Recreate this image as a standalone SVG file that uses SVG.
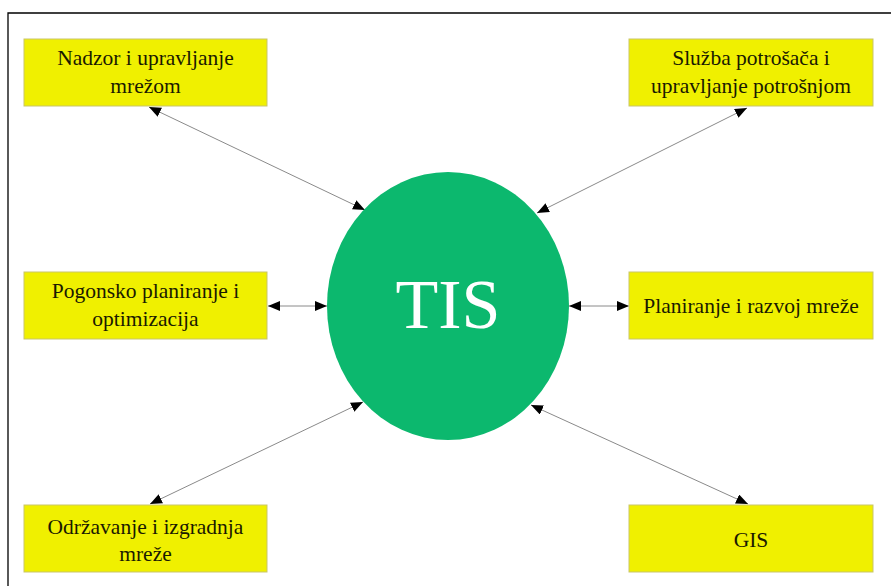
<svg xmlns="http://www.w3.org/2000/svg" width="891" height="586" viewBox="0 0 891 586">
<style>
.box{fill:#f0f000;stroke:#c9c56a;stroke-width:1}
.lbl{font-family:'Liberation Serif',serif;font-size:21.5px;fill:#1a1a00;text-anchor:middle}
.con{stroke:#8a8a8a;stroke-width:1;fill:none;marker-start:url(#ah);marker-end:url(#ah)}
</style>
<defs>
<marker id="ah" markerUnits="userSpaceOnUse" markerWidth="14" markerHeight="12" refX="12" refY="5" orient="auto-start-reverse">
<path d="M0,0 L12,5 L0,10 z" fill="#000"/>
</marker>
</defs>
<rect x="0" y="0" width="891" height="586" fill="#fff"/>
<path d="M8,586 L8,13 L891,13" fill="none" stroke="#000" stroke-width="1.3"/>
<g id="connectors">
<line class="con" x1="149" y1="107" x2="365" y2="210"/>
<line class="con" x1="747" y1="108" x2="537" y2="213"/>
<line class="con" x1="268" y1="306" x2="327" y2="306"/>
<line class="con" x1="569" y1="306" x2="629" y2="306"/>
<line class="con" x1="150" y1="504" x2="363" y2="402"/>
<line class="con" x1="748" y1="504" x2="531" y2="405"/>
</g>
<g id="tis">
<ellipse cx="448" cy="306" rx="121" ry="134" fill="#0cb86e"/>
<text x="448" y="328" font-family="'Liberation Serif', serif" font-size="70" fill="#fff" text-anchor="middle">TIS</text>
</g>
<g id="n1" font-family="'Liberation Serif', serif">
<rect class="box" x="24" y="39" width="243" height="67"/>
<text class="lbl" x="145.5" y="65">Nadzor i upravljanje</text>
<text class="lbl" x="145.5" y="93">mrežom</text>
</g>
<g id="n2" font-family="'Liberation Serif', serif">
<rect class="box" x="629" y="39" width="244" height="67"/>
<text class="lbl" x="751" y="65">Služba potrošača i</text>
<text class="lbl" x="751" y="93">upravljanje potrošnjom</text>
</g>
<g id="n3" font-family="'Liberation Serif', serif">
<rect class="box" x="24" y="272" width="243" height="67"/>
<text class="lbl" x="145.5" y="298">Pogonsko planiranje i</text>
<text class="lbl" x="145.5" y="326">optimizacija</text>
</g>
<g id="n4" font-family="'Liberation Serif', serif">
<rect class="box" x="629" y="272" width="244" height="67"/>
<text class="lbl" x="751" y="313">Planiranje i razvoj mreže</text>
</g>
<g id="n5" font-family="'Liberation Serif', serif">
<rect class="box" x="24" y="505" width="243" height="67"/>
<text class="lbl" x="145.5" y="534">Održavanje i izgradnja</text>
<text class="lbl" x="145.5" y="561">mreže</text>
</g>
<g id="n6" font-family="'Liberation Serif', serif">
<rect class="box" x="629" y="505" width="244" height="67"/>
<text class="lbl" x="751" y="547">GIS</text>
</g>
</svg>
